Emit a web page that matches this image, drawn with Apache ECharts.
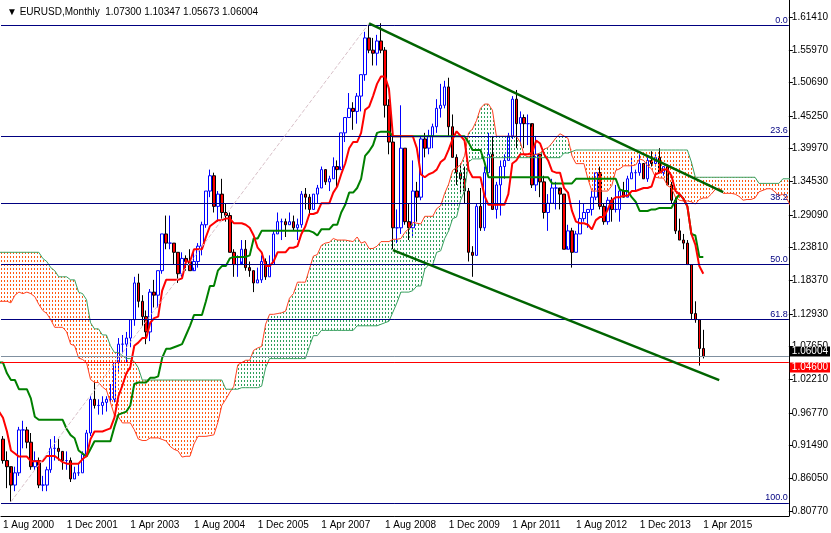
<!DOCTYPE html>
<html>
<head>
<meta charset="utf-8">
<script src="https://cdn.jsdelivr.net/npm/echarts@6/dist/echarts.min.js"></script>
<style>html,body{margin:0;padding:0;background:#fff}#chart{width:831px;height:533px}</style>
</head>
<body>
<div id="chart"></div>
<script>
// monthly EURUSD (synthetic before 1999), Jan 1995 .. Apr 2015 (open = previous close)
const closes = [
  1.24,1.27,1.36,1.36,1.33,1.34,1.35,1.29,1.32,1.35,1.35,1.34,
  1.31,1.32,1.30,1.26,1.25,1.26,1.30,1.30,1.27,1.26,1.27,1.25,
  1.21,1.15,1.15,1.14,1.14,1.11,1.08,1.10,1.12,1.13,1.13,1.10,
  1.085,1.09,1.08,1.10,1.11,1.10,1.10,1.12,1.18,1.19,1.16,1.17,
  1.16,1.10,1.08,1.06,1.04,1.03,1.07,1.06,1.07,1.06,1.01,1.01,
  0.97,0.965,0.955,0.91,0.93,0.95,0.925,0.89,0.88,0.85,0.87,0.94,
  0.94,0.92,0.88,0.89,0.85,0.85,0.875,0.91,0.91,0.905,0.89,0.89,
  0.86,0.87,0.87,0.90,0.935,0.99,0.98,0.98,0.985,0.99,0.99,1.05,
  1.08,1.08,1.09,1.12,1.18,1.15,1.125,1.10,1.165,1.16,1.20,1.26,
  1.245,1.245,1.23,1.195,1.22,1.215,1.20,1.215,1.24,1.275,1.33,1.355,
  1.305,1.325,1.295,1.29,1.23,1.21,1.21,1.235,1.205,1.20,1.18,1.185,
  1.215,1.19,1.21,1.26,1.28,1.28,1.275,1.28,1.27,1.275,1.325,1.32,
  1.30,1.325,1.335,1.365,1.345,1.35,1.37,1.365,1.425,1.45,1.465,1.46,
  1.485,1.52,1.58,1.56,1.555,1.575,1.56,1.47,1.41,1.27,1.27,1.40,
  1.28,1.27,1.33,1.32,1.415,1.40,1.42,1.435,1.465,1.47,1.50,1.435,
  1.385,1.36,1.35,1.33,1.23,1.225,1.305,1.27,1.36,1.39,1.30,1.34,
  1.37,1.38,1.42,1.48,1.44,1.45,1.44,1.44,1.34,1.39,1.345,1.295,
  1.31,1.335,1.335,1.325,1.235,1.265,1.23,1.26,1.285,1.295,1.30,1.32,
  1.36,1.305,1.28,1.315,1.30,1.30,1.33,1.32,1.35,1.36,1.36,1.375,
  1.35,1.38,1.375,1.385,1.36,1.37,1.34,1.315,1.265,1.25,1.245,1.21,
  1.13,1.12,1.073,1.06004
];
const highs = [
  1.26,1.28,1.38,1.39,1.37,1.36,1.37,1.36,1.33,1.36,1.37,1.36,
  1.34,1.33,1.33,1.31,1.27,1.28,1.31,1.31,1.30,1.28,1.29,1.28,
  1.26,1.21,1.17,1.16,1.17,1.15,1.12,1.12,1.13,1.15,1.15,1.14,
  1.10,1.10,1.10,1.11,1.13,1.12,1.12,1.13,1.19,1.22,1.19,1.18,
  1.19,1.16,1.10,1.09,1.07,1.05,1.08,1.08,1.08,1.09,1.06,1.04,
  1.03,0.99,0.98,0.96,0.94,0.97,0.955,0.93,0.905,0.87,0.88,0.945,
  0.955,0.945,0.935,0.905,0.895,0.865,0.88,0.925,0.93,0.925,0.905,0.905,
  0.895,0.88,0.885,0.905,0.94,0.995,1.02,0.99,0.995,0.995,1.015,1.05,
  1.09,1.095,1.10,1.12,1.19,1.195,1.16,1.135,1.17,1.185,1.20,1.26,
  1.29,1.29,1.245,1.23,1.23,1.225,1.235,1.235,1.245,1.28,1.33,1.365,
  1.36,1.33,1.35,1.31,1.295,1.235,1.225,1.25,1.25,1.215,1.20,1.205,
  1.225,1.22,1.225,1.265,1.295,1.285,1.285,1.295,1.29,1.285,1.33,1.335,
  1.325,1.325,1.34,1.37,1.365,1.355,1.385,1.38,1.425,1.45,1.49,1.475,
  1.49,1.52,1.59,1.60,1.58,1.585,1.604,1.565,1.48,1.42,1.30,1.47,
  1.40,1.31,1.38,1.345,1.42,1.425,1.43,1.44,1.48,1.505,1.51,1.515,
  1.455,1.39,1.375,1.37,1.335,1.24,1.31,1.335,1.37,1.425,1.42,1.345,
  1.38,1.39,1.425,1.485,1.495,1.46,1.455,1.455,1.435,1.42,1.39,1.355,
  1.325,1.35,1.345,1.33,1.325,1.275,1.27,1.265,1.315,1.31,1.30,1.33,
  1.36,1.37,1.31,1.32,1.32,1.34,1.335,1.345,1.355,1.385,1.365,1.39,
  1.375,1.385,1.395,1.39,1.40,1.37,1.37,1.345,1.32,1.285,1.26,1.25,
  1.21,1.15,1.12,1.10347
];
const lows = [
  1.22,1.23,1.27,1.34,1.32,1.32,1.33,1.28,1.28,1.31,1.33,1.32,
  1.30,1.30,1.29,1.25,1.24,1.24,1.26,1.28,1.26,1.25,1.25,1.24,
  1.20,1.14,1.13,1.13,1.12,1.10,1.07,1.07,1.09,1.11,1.12,1.09,
  1.07,1.08,1.07,1.08,1.09,1.09,1.09,1.08,1.12,1.17,1.15,1.15,
  1.13,1.09,1.07,1.05,1.04,1.02,1.01,1.04,1.04,1.05,1.00,1.00,
  0.96,0.955,0.945,0.89,0.88,0.92,0.92,0.885,0.845,0.823,0.84,0.865,
  0.91,0.91,0.875,0.875,0.845,0.84,0.84,0.87,0.89,0.89,0.875,0.875,
  0.855,0.86,0.865,0.87,0.90,0.93,0.975,0.965,0.965,0.97,0.985,0.985,
  1.035,1.065,1.05,1.075,1.11,1.14,1.11,1.08,1.085,1.14,1.14,1.195,
  1.235,1.235,1.21,1.18,1.19,1.20,1.20,1.205,1.205,1.225,1.27,1.32,
  1.295,1.28,1.285,1.28,1.23,1.19,1.19,1.215,1.20,1.19,1.165,1.18,
  1.18,1.185,1.19,1.21,1.26,1.25,1.255,1.275,1.265,1.25,1.27,1.30,
  1.29,1.30,1.31,1.335,1.34,1.33,1.35,1.335,1.37,1.41,1.45,1.43,
  1.44,1.46,1.51,1.555,1.535,1.535,1.555,1.45,1.39,1.235,1.245,1.26,
  1.275,1.25,1.255,1.28,1.315,1.385,1.39,1.40,1.425,1.45,1.465,1.42,
  1.385,1.34,1.325,1.31,1.215,1.19,1.225,1.265,1.265,1.36,1.30,1.285,
  1.29,1.35,1.38,1.415,1.40,1.405,1.40,1.405,1.335,1.33,1.32,1.285,
  1.265,1.31,1.30,1.30,1.235,1.24,1.205,1.23,1.26,1.28,1.27,1.29,
  1.315,1.30,1.275,1.275,1.28,1.295,1.28,1.32,1.32,1.35,1.33,1.355,
  1.35,1.345,1.37,1.37,1.36,1.355,1.34,1.31,1.26,1.25,1.235,1.21,
  1.12,1.115,1.045,1.05673
];
const firstOpen = 1.23;
const firstYear = 1995;
const priceTicks = [1.61410,1.55970,1.50690,1.45250,1.39970,1.34530,1.29090,1.23810,
  1.18370,1.12930,1.07650,1.02210,0.96770,0.91490,0.86050,0.80770];
const fibLevels = [['0.0',1.6038],['23.6',1.4195],['38.2',1.3055],['50.0',1.2133],['61.8',1.1211],['100.0',0.8228]];
const currentPrice = 1.06004;
const supportLine = 1.04600;

const MON = ['Jan','Feb','Mar','Apr','May','Jun','Jul','Aug','Sep','Oct','Nov','Dec'];
const total = closes.length + 27;
const months = [];
for (let i = 0; i < total; i++) months.push('1 ' + MON[i % 12] + ' ' + (firstYear + Math.floor(i / 12)));
const idx = s => months.indexOf(s);
const startIdx = idx('1 Aug 2000');
const lastLabel = idx('1 Apr 2015');
const showTick = i => i <= lastLabel && (i - startIdx) % 16 === 0;

const candles = closes.map((c, i) => [i ? closes[i - 1] : firstOpen, c, lows[i], highs[i]]);

// ichimoku 9/26/52
function mid(i, n) {
  let hi = -Infinity, lo = Infinity;
  for (let k = Math.max(0, i - n + 1); k <= i; k++) { hi = Math.max(hi, highs[k]); lo = Math.min(lo, lows[k]); }
  return (hi + lo) / 2;
}
const tenkan = closes.map((_, i) => mid(i, 9));
const kijun = closes.map((_, i) => mid(i, 26));
const spanA = new Array(total).fill(null), spanB = new Array(total).fill(null);
closes.forEach((_, i) => { spanA[i + 26] = (tenkan[i] + kijun[i]) / 2; spanB[i + 26] = mid(i, 52); });
const base = spanA.map((a, i) => a == null ? null : Math.min(a, spanB[i]));
const greenBand = spanA.map((a, i) => a == null ? null : Math.max(0, a - spanB[i]));
const orangeBand = spanA.map((a, i) => a == null ? null : Math.max(0, spanB[i] - a));

function hatch(color) {
  const c = document.createElement('canvas');
  c.width = 3; c.height = 4;
  const g = c.getContext('2d');
  g.fillStyle = color;
  g.fillRect(1, 0, 1, 2);
  return { image: c, repeat: 'repeat' };
}

const chart = echarts.init(document.getElementById('chart'));
const font = 'Liberation Sans, Arial, sans-serif';
const priceBox = (v, bg, va) => ({
  yAxis: v, lineStyle: { color: bg === '#000' ? '#8090a0' : '#ff0000', width: 1, type: 'solid' },
  label: { formatter: v.toFixed(5), position: 'end', color: '#fff', backgroundColor: bg, verticalAlign: va,
    padding: [0, 2], lineHeight: 10, fontSize: 10, distance: 1, fontFamily: font }
});
chart.setOption({
  animation: false,
  title: { text: '\u25BC EURUSD,Monthly  1.07300 1.10347 1.05673 1.06004', left: 2, top: 2,
    textStyle: { fontSize: 10, fontWeight: 'normal', color: '#000', fontFamily: font } },
  grid: { left: 0, right: 41, top: 0, bottom: 17 },
  xAxis: {
    type: 'category', data: months, min: startIdx, max: startIdx + 197, boundaryGap: true,
    axisLine: { lineStyle: { color: '#000' } },
    axisTick: { interval: showTick, length: 4, lineStyle: { color: '#000' } },
    axisLabel: { interval: showTick, align: 'left', margin: 4,
      fontSize: 10, color: '#000', fontFamily: font }
  },
  yAxis: {
    type: 'value', position: 'right', min: 0.7995, max: 1.6419, scale: true,
    splitLine: { show: false },
    axisLine: { show: true, lineStyle: { color: '#000' } },
    axisTick: { show: true, customValues: priceTicks, length: 4, lineStyle: { color: '#000' } },
    axisLabel: { customValues: priceTicks, formatter: v => v.toFixed(5), margin: 3,
      fontSize: 10, color: '#000', fontFamily: font }
  },
  series: [
    { type: 'line', data: base, stack: 'cloud', symbol: 'none', lineStyle: { width: 0 } },
    { type: 'line', data: greenBand, stack: 'cloud', symbol: 'none', lineStyle: { width: 0 },
      areaStyle: { color: hatch('#2ea05a'), opacity: 1 } },
    { type: 'line', data: orangeBand, stack: 'cloud', symbol: 'none', lineStyle: { width: 0 },
      areaStyle: { color: hatch('#ff5a10'), opacity: 1 } },
    { type: 'line', data: spanA, symbol: 'none', lineStyle: { width: 1, color: '#ff4020' } },
    { type: 'line', data: spanB, symbol: 'none', lineStyle: { width: 1, color: '#3aa060' } },
    {
      type: 'line', data: [], symbol: 'none',
      markLine: {
        symbol: 'none', silent: true,
        data: [
          ...fibLevels.map(([t, v]) => ({ yAxis: v, lineStyle: { color: '#000080', width: 1, type: 'solid' },
            label: { formatter: t, position: 'insideEndTop', color: '#000080', fontSize: 9, distance: 1, fontFamily: font } })),
          priceBox(currentPrice, '#000', 'bottom'),
          priceBox(supportLine, '#ff0000', 'top'),
          [{ coord: ['1 Oct 2000', 0.8228] }, { coord: ['1 Apr 2008', 1.6038],
            lineStyle: { color: '#d8c0c8', width: 1, type: 'dashed' }, label: { show: false } }],
          [{ coord: ['1 Apr 2008', 1.6038] }, { coord: ['1 Sep 2015', 1.3284],
            lineStyle: { color: '#006400', width: 2.5, type: 'solid' }, label: { show: false } }],
          [{ coord: ['1 Oct 2008', 1.2335] }, { coord: ['1 Aug 2015', 1.0213],
            lineStyle: { color: '#006400', width: 2.5, type: 'solid' }, label: { show: false } }]
        ]
      }
    },
    { type: 'line', data: kijun, symbol: 'none', lineStyle: { width: 2, color: '#008000' } },
    { type: 'line', data: tenkan, symbol: 'none', lineStyle: { width: 2, color: '#ff0000' } },
    {
      type: 'candlestick', data: candles, barWidth: 3,
      itemStyle: { color: '#ffffff', color0: '#ff0000', borderColor: '#0000ff', borderColor0: '#000000', borderWidth: 1 }
    }
  ]
});
</script>
</body>
</html>
